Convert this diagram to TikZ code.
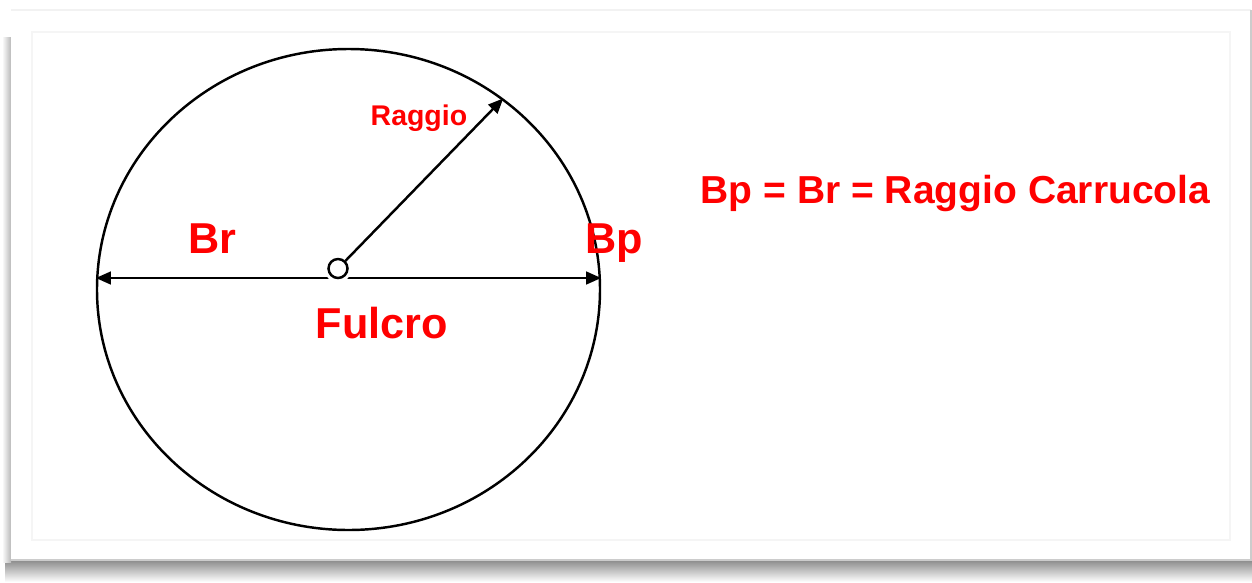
\documentclass[tikz,border=0pt]{standalone}
\usepackage{fontspec}
\setmainfont{Liberation Sans}
\usepackage{xcolor}
\usetikzlibrary{arrows.meta,positioning,shapes.geometric}
\definecolor{lred}{RGB}{255,0,0}
\definecolor{shadowgray}{RGB}{120,120,120}

\begin{document}
\begin{tikzpicture}[
  lbl/.style={text=lred,inner sep=0pt,anchor=base west},
  big/.style={lbl,font=\fontsize{12.3}{14}\selectfont\bfseries},
  small/.style={lbl,font=\fontsize{8.1}{10}\selectfont\bfseries},
  wheelshape/.style={draw,ellipse,line width=0.7pt,inner sep=0pt,minimum width=5.03cm,minimum height=4.81cm},
  pivot/.style={draw,circle,fill=white,line width=0.7pt,inner sep=0pt,minimum size=0.19cm,preaction={draw=white,line width=2.4pt}},
  arr/.style={{Triangle[length=4.3pt,width=3.6pt]}-{Triangle[length=4.3pt,width=3.6pt]},line width=0.7pt},
  rad/.style={-{Triangle[length=4.3pt,width=3.6pt]},line width=0.7pt}
]
\useasboundingbox (0,0) rectangle (12.52,5.82);
% card and its shadow
\shade[top color=shadowgray!90,bottom color=white] (0.05,0.0) rectangle (12.52,0.23);
\shade[left color=white,right color=gray!55] (0.02,0.2) rectangle (0.11,5.45);
\fill[white] (0.11,0.22) rectangle (12.51,5.72);
\draw[gray!10,line width=0.4pt] (0.11,5.72) -- (12.51,5.72);
\draw[gray!40,line width=0.4pt] (0.11,0.22) -- (12.51,0.22) -- (12.51,5.72);
\draw[gray!8,line width=0.4pt] (0.32,0.42) rectangle (12.30,5.50);

% pulley
\node[wheelshape] (wheel) at (3.485,2.925) {};
\draw[arr] (wheel.west |- 0,3.04) -- (wheel.east |- 0,3.04);
\node[pivot] (fulcro) at (3.38,3.135) {};
\draw[rad] (fulcro) -- (wheel.51);

% labels
\node[small] (raggio) at (3.70,4.57) {Raggio};
\node[big] (br) at (1.88,3.29) {Br};
\node[big] (bp) at (5.85,3.29) {Bp};
\node[big] (fulcrolbl) at (3.15,2.44) {Fulcro};
\node[lbl,font=\fontsize{11.1}{13}\selectfont\bfseries] (formula) at (7.00,3.79) {Bp = Br = Raggio Carrucola};
\end{tikzpicture}
\end{document}
